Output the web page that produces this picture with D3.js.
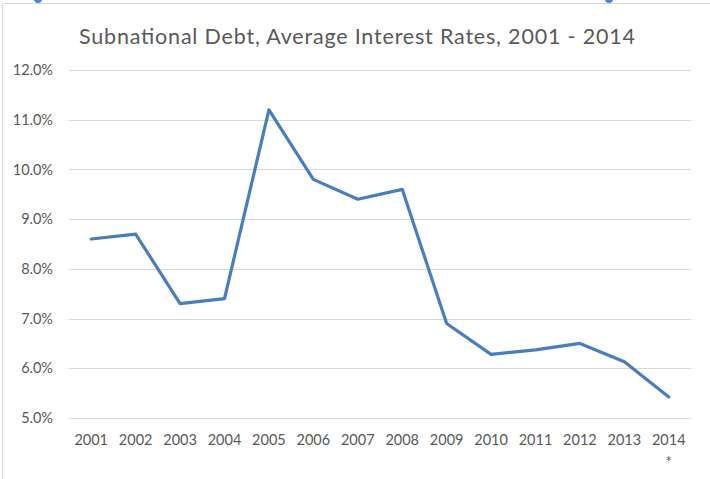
<!DOCTYPE html>
<html>
<head>
<meta charset="utf-8">
<script src="https://cdn.jsdelivr.net/npm/d3@7"></script>
<style>
  body { margin: 0; background: #fff; }
  text { font-family: Lato, "Open Sans", sans-serif; fill: #595959; }
</style>
</head>
<body>
<div id="chart"></div>
<script>
// chart data
const years = ["2001", "2002", "2003", "2004", "2005", "2006", "2007",
  "2008", "2009", "2010", "2011", "2012", "2013", "2014"];
const rates = [8.6, 8.7, 7.3, 7.4, 11.2, 9.8, 9.4, 9.6, 6.9, 6.28, 6.37, 6.5, 6.13, 5.42];
const yTicks = [5, 6, 7, 8, 9, 10, 11, 12];
const TITLE = "Subnational Debt, Average Interest Rates, 2001 - 2014";

const W = 710, H = 479;
const MARGIN = { top: 70, right: 19, bottom: 61, left: 69 };
const innerW = W - MARGIN.left - MARGIN.right;
const innerH = H - MARGIN.top - MARGIN.bottom;

const svg = d3.select("#chart").append("svg")
  .attr("width", W).attr("height", H);

// frame of the chart object (top + left edges visible)
svg.append("line").attr("x1", 2.5).attr("x2", W).attr("y1", 3.5).attr("y2", 3.5)
  .attr("stroke", "#d9d9d9");
svg.append("line").attr("x1", 2.5).attr("x2", 2.5).attr("y1", 3.5).attr("y2", H)
  .attr("stroke", "#d9d9d9");
// selection handles peeking at top
[38, 609].forEach((cx) => {
  svg.append("circle").attr("cx", cx).attr("cy", -1).attr("r", 4).attr("fill", "#4a86d0");
});

svg.append("text")
  .attr("x", 357).attr("y", 44)
  .attr("text-anchor", "middle")
  .attr("font-size", 21.5)
  .attr("textLength", 556)
  .attr("lengthAdjust", "spacing")
  .text(TITLE);

const g = svg.append("g").attr("transform", `translate(${MARGIN.left},${MARGIN.top})`);

const x = d3.scaleBand().domain(years).range([0, innerW]);
const y = d3.scaleLinear().domain([5, 12]).range([innerH, 0]);

// gridlines
g.append("g")
  .selectAll("line")
  .data(yTicks)
  .join("line")
  .attr("x1", 0).attr("x2", innerW)
  .attr("y1", (d) => Math.round(y(d)) + 0.5)
  .attr("y2", (d) => Math.round(y(d)) + 0.5)
  .attr("stroke", "#d9d9d9");

// y labels
g.append("g")
  .selectAll("text")
  .data(yTicks)
  .join("text")
  .attr("x", -16)
  .attr("y", (d) => y(d))
  .attr("dy", "0.35em")
  .attr("text-anchor", "end")
  .attr("font-size", 14.5)
  .text((d) => d.toFixed(1) + "%");

// x labels
g.append("g")
  .selectAll("text")
  .data(years)
  .join("text")
  .attr("x", (d) => x(d) + x.bandwidth() / 2)
  .attr("y", innerH + 27)
  .attr("text-anchor", "middle")
  .attr("font-size", 14.5)
  .text((d) => d);

g.append("text")
  .attr("x", x("2014") + x.bandwidth() / 2)
  .attr("y", innerH + 49)
  .attr("text-anchor", "middle")
  .attr("font-size", 15)
  .text("*");

// the line
const line = d3.line()
  .x((d, i) => x(years[i]) + x.bandwidth() / 2)
  .y((d) => y(d));

g.append("path")
  .datum(rates)
  .attr("d", line)
  .attr("fill", "none")
  .attr("stroke", "#4a7ebb")
  .attr("stroke-width", 3.2)
  .attr("stroke-linejoin", "round")
  .attr("stroke-linecap", "round");
</script>
</body>
</html>
